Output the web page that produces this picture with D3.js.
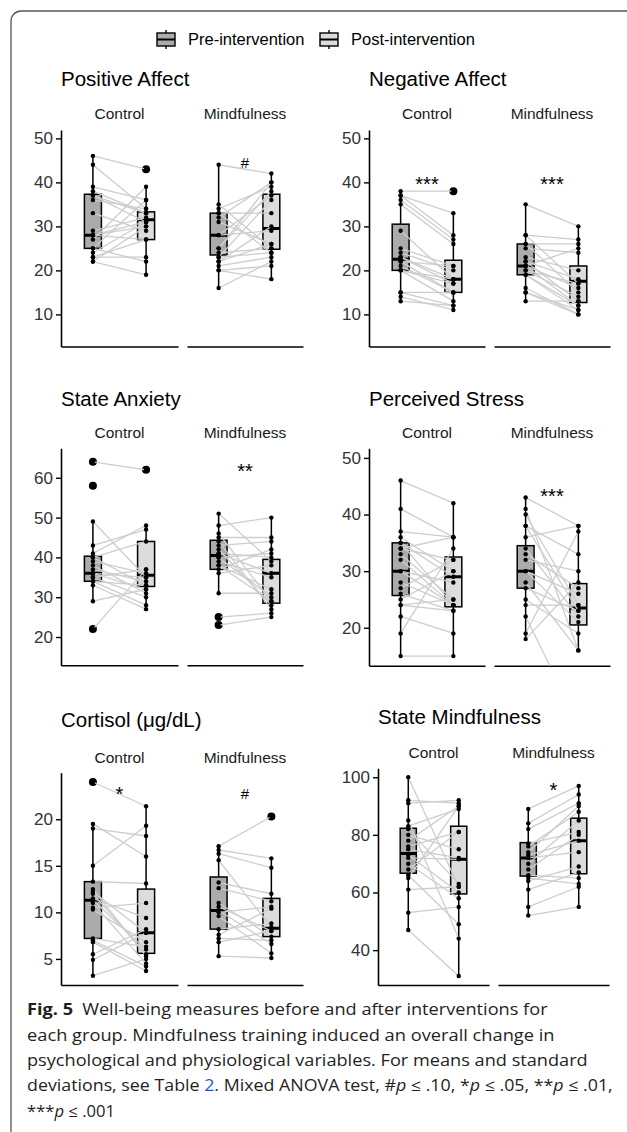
<!DOCTYPE html>
<html>
<head>
<meta charset="utf-8">
<script src="https://cdn.jsdelivr.net/npm/d3@7"></script>
<style>
  html, body { margin: 0; padding: 0; background: #fff; }
  svg { display: block; font-family: "Liberation Sans", Arial, sans-serif; }
  .title { font-size: 20.5px; fill: #000; }
  .strip { font-size: 15.5px; fill: #1a1a1a; text-anchor: middle; }
  .tick text { font-size: 17px; fill: #333; }
  .mark { fill: #000; text-anchor: middle; }
  .caption { font-family: "Open Sans", "Noto Sans", sans-serif; font-size: 16px; fill: #231f20; }
</style>
</head>
<body>
<svg id="fig" width="627" height="1132"></svg>
<script>
// ---------- data ----------
const measures = ['Positive Affect', 'Negative Affect', 'State Anxiety', 'Perceived Stress', 'Cortisol (\u03bcg/dL)', 'State Mindfulness'];
const groups = ['Control', 'Mindfulness'];
const phases = ['Pre-intervention', 'Post-intervention'];

// Positive Affect (same index = same participant)
const paControlPre  = [46, 44, 39, 38, 37, 37, 36, 33, 29, 28, 28, 28, 27, 25, 25, 24, 23, 23, 22, 22];
const paControlPost = [43, 34, 36, 33, 33, 31, 34, 29, 32, 31, 30, 27, 39, 36, 22, 31, 23, 27, 19, 30];
const paMindPre  = [44, 35, 34, 33, 33, 32, 31, 28, 28, 25, 25, 24, 23, 23, 22, 22, 21, 20, 20, 16];
const paMindPost = [42, 25, 39, 33, 24, 40, 26, 37, 29, 38, 40, 25, 36, 24, 30, 26, 23, 18, 21, 22];
// boxes: [whisker low, q1, median, q3, whisker high] for ctrl pre, ctrl post, mind pre, mind post
const paBoxes = [[22, 25, 28, 37.3, 46], [19, 27, 31.5, 33.3, 39], [16, 23.5, 28, 33, 44], [18, 24.8, 29.5, 37.3, 42]];
const paOutliers = [[], [43], [], []];
const paMarks = ['', '#'];
const paMarkY = [null, 44.5];
const paTicks = [10, 20, 30, 40, 50];
const paDomain = [2.7, 51.9];

// Negative Affect
const naControlPre  = [38, 37, 37, 36, 35, 29, 25, 24, 23, 23, 22, 22, 21, 20, 20, 20, 15, 15, 14, 13];
const naControlPost = [38, 33, 28, 27, 26, 18, 21, 20, 17, 18, 21, 15, 15, 13, 18, 17, 15, 12, 11, 12];
const naMindPre  = [35, 28, 28, 26, 26, 25, 23, 22, 22, 21, 21, 21, 20, 20, 19, 19, 16, 15, 15, 13];
const naMindPost = [30, 27, 17, 26, 15, 24, 20, 18, 13, 25, 16, 12, 14, 17, 11, 12, 10, 11, 10, 13];
const naBoxes = [[13, 20, 22.5, 30.5, 38], [11, 15, 18, 22.3, 33], [13, 19, 21, 26, 35], [10, 12.7, 17.5, 21, 30]];
const naOutliers = [[], [38], [], []];
const naMarks = ['***', '***'];
const naMarkY = [40.6, 40.6];
const naTicks = [10, 20, 30, 40, 50];
const naDomain = [2.7, 51.9];

// State Anxiety
const saControlPre  = [64, 58, 49, 43, 41, 40, 40, 39, 38, 37, 36, 36, 35, 35, 34, 34, 33, 29, 22];
const saControlPost = [62, null, 35, 47, 48, 44, 33, 36, 31, 34, 32, 35, 37, 30, 28, 33, 27, 32, 37];
const saMindPre  = [51, 48, 46, 45, 44, 43, 42, 41, 41, 40, 40, 39, 38, 38, 37, 36, 31, 25, 23];
const saMindPost = [39, 50, 29, 45, 27, 44, 28, 36, 40, 30, 41, 35, 32, 29, 42, 38, 31, 26, 25];
const saBoxes = [[29, 34, 36, 40.3, 49], [27, 32.7, 35.5, 44, 48], [31, 37, 40.5, 44.3, 51], [25, 28.5, 36, 39.5, 50]];
const saOutliers = [[64, 58, 22], [62], [25, 23], []];
const saMarks = ['', '**'];
const saMarkY = [null, 62.8];
const saTicks = [20, 30, 40, 50, 60];
const saDomain = [12.9, 67.4];

// Perceived Stress
const psControlPre  = [46, 41, 37, 36, 35, 35, 34, 34, 33, 32, 30, 30, 28, 27, 26, 25, 24, 24, 22, 19, 15];
const psControlPost = [42, 36, 36, 30, 24, 29, 32, 36, 25, 24, 28, 24, 24, 32, 23, 30, 23, 25, 19, 34, 15];
const psMindPre  = [43, 41, 40, 38, 38, 36, 34, 33, 32, 30, 30, 28, 27, 25, 24, 22, 19, 18];
const psMindPost = [38, 16, 24, 23, 33, 38, 22, 27, 30, 21, 26, 16, 23, 19, 24, 3, 37, 28];
const psBoxes = [[15, 25.7, 30, 35, 46], [15, 23.7, 29, 32.5, 42], [18, 27, 30, 34.5, 43], [16, 20.5, 23.5, 27.8, 38]];
const psOutliers = [[], [], [], [3]];
const psMarks = ['', '***'];
const psMarkY = [null, 44.1];
const psTicks = [20, 30, 40, 50];
const psDomain = [13.3, 51.7];

// Cortisol
const coControlPre  = [24.0, 19.5, 19.0, 15.0, 13.3, 12.5, 12.2, 12.0, 11.5, 11.3, 11.0, 10.5, 10.3, 7.2, 7.0, 6.8, 5.5, 4.9, 3.2];
const coControlPost = [21.4, 16.0, 18.2, 19.3, 13.1, 5.3, 7.8, 5.5, 9.4, 6.0, 4.5, 11.0, 6.8, 6.3, 4.2, 3.7, 8.2, 7.8, 5.0];
const coMindPre  = [17.1, 16.7, 16.3, 15.6, 13.2, 12.6, 11.0, 10.6, 10.2, 10.0, 9.6, 8.2, 7.6, 7.2, 6.8, 5.3];
const coMindPost = [20.3, 15.8, 14.8, 8.4, 12.0, 11.2, 7.4, 8.0, 6.6, 10.6, 5.6, 8.8, 10.4, 7.0, 8.0, 5.1];
const coBoxes = [[3.2, 7.2, 11.3, 13.3, 19.5], [3.7, 5.6, 7.8, 12.5, 21.4], [5.3, 8.2, 10.2, 13.8, 17.1], [5.1, 7.4, 8.3, 11.5, 15.8]];
const coOutliers = [[24.0], [], [], [20.3]];
const coMarks = ['*', '#'];
const coMarkY = [23.2, 22.7];
const coTicks = [5, 10, 15, 20];
const coDomain = [2.2, 25];

// State Mindfulness
const smControlPre  = [100, 92, 91, 85, 83, 82, 80, 78, 76, 75, 73, 72, 70, 68, 66, 65, 61, 53, 47];
const smControlPost = [62, 91, 92, 44, 89, 63, 75, 90, 81, 72, 60, 71.5, 58, 81, 49, 90, 62, 55, 31];
const smMindPre  = [89, 84, 82, 77, 76, 74, 73, 72, 70, 68, 66, 65, 64, 61, 55, 52];
const smMindPost = [97, 94, 91, 81, 88, 90, 78, 74, 85, 80, 65, 63, 69, 67, 62, 55];
const smBoxes = [[47, 66.7, 73.5, 82.3, 100], [31, 59.5, 71.5, 83, 92], [52, 65.7, 72, 77.3, 89], [55, 66.5, 78, 85.8, 97]];
const smOutliers = [[], [], [], []];
const smMarks = ['', '*'];
const smMarkY = [null, 97.0];
const smTicks = [40, 60, 80, 100];
const smDomain = [27.9, 103.1];

// ---------- panel table built from the arrays ----------
const panels = [
  { pre: [paControlPre, paMindPre], post: [paControlPost, paMindPost], boxes: paBoxes, outliers: paOutliers, marks: paMarks, markY: paMarkY, ticks: paTicks, domain: paDomain },
  { pre: [naControlPre, naMindPre], post: [naControlPost, naMindPost], boxes: naBoxes, outliers: naOutliers, marks: naMarks, markY: naMarkY, ticks: naTicks, domain: naDomain },
  { pre: [saControlPre, saMindPre], post: [saControlPost, saMindPost], boxes: saBoxes, outliers: saOutliers, marks: saMarks, markY: saMarkY, ticks: saTicks, domain: saDomain },
  { pre: [psControlPre, psMindPre], post: [psControlPost, psMindPost], boxes: psBoxes, outliers: psOutliers, marks: psMarks, markY: psMarkY, ticks: psTicks, domain: psDomain },
  { pre: [coControlPre, coMindPre], post: [coControlPost, coMindPost], boxes: coBoxes, outliers: coOutliers, marks: coMarks, markY: coMarkY, ticks: coTicks, domain: coDomain },
  { pre: [smControlPre, smMindPre], post: [smControlPost, smMindPost], boxes: smBoxes, outliers: smOutliers, marks: smMarks, markY: smMarkY, ticks: smTicks, domain: smDomain }
].map((p, i) => ({ ...p, title: measures[i] }));

// page layout of each panel (pixels)
const layout = [
  { facets: [[61, 178], [187, 303]], title: 86, strip: 119.3, top: 130, bottom: 346.5 },
  { facets: [[369, 485], [494, 610]], title: 86, strip: 119.3, top: 130, bottom: 346.5 },
  { facets: [[61, 178], [187, 303]], title: 406, strip: 438.3, top: 448.3, bottom: 665.3 },
  { facets: [[369, 485], [494, 610]], title: 406, strip: 438.3, top: 448.3, bottom: 665.7 },
  { facets: [[61, 178], [187, 303]], title: 727, strip: 763, top: 772.7, bottom: 985 },
  { facets: [[378, 489], [498, 609]], title: 724, strip: 758.3, top: 768.3, bottom: 985 }
];

const fills = ['#ababab', '#dcdcdc'];
const pairColor = '#cdcdcd';
const boxHalf = 0.16;

const svg = d3.select('#fig');

// frame
svg.append('path')
  .attr('d', 'M11,1132V21A10,10 0 0 1 21,11H627')
  .attr('fill', 'none')
  .attr('stroke', '#555')
  .attr('stroke-width', 1.3);

// legend
const legendX = [157, 320];
phases.forEach((ph, k) => {
  const lg = svg.append('g').attr('transform', `translate(${legendX[k]},0)`);
  lg.append('line').attr('x1', 9).attr('x2', 9).attr('y1', 30).attr('y2', 49)
    .attr('stroke', '#000').attr('stroke-width', 1.4);
  lg.append('rect').attr('x', 0).attr('y', 33).attr('width', 18).attr('height', 13)
    .attr('fill', fills[k]).attr('stroke', '#000').attr('stroke-width', 1.4);
  lg.append('line').attr('x1', 0).attr('x2', 18).attr('y1', 39.5).attr('y2', 39.5)
    .attr('stroke', '#000').attr('stroke-width', 2);
  lg.append('text').attr('x', 31).attr('y', 45).attr('font-size', 16.5).attr('fill', '#000').text(ph);
});

panels.forEach((p, i) => {
  const L = layout[i];
  const g = svg.append('g');
  const y = d3.scaleLinear().domain(p.domain).range([L.bottom, L.top]);

  g.append('text').attr('class', 'title')
    .attr('x', L.facets[0][0]).attr('y', L.title).text(p.title);

  const ay = g.append('g')
    .attr('transform', `translate(${L.facets[0][0]},0)`)
    .call(d3.axisLeft(y).tickValues(p.ticks).tickSize(5).tickSizeOuter(0).tickPadding(3));
  ay.select('.domain').attr('stroke', '#000').attr('stroke-width', 1.6);
  ay.selectAll('.tick line').attr('stroke', '#000').attr('stroke-width', 1.4);
  ay.attr('font-family', null).attr('font-size', null);

  groups.forEach((grp, j) => {
    const x = d3.scaleLinear().domain([0.4, 2.6]).range(L.facets[j]);
    const fg = g.append('g');

    fg.append('g')
      .attr('transform', `translate(0,${L.bottom})`)
      .call(d3.axisBottom(x).tickValues([]).tickSizeOuter(0))
      .select('.domain').attr('stroke', '#000').attr('stroke-width', 1.6);

    fg.append('text').attr('class', 'strip')
      .attr('x', x(1.5)).attr('y', L.strip).text(grp);

    const clipId = `clip-${i}-${j}`;
    fg.append('clipPath').attr('id', clipId)
      .append('rect')
      .attr('x', x(0.4)).attr('width', x(2.6) - x(0.4))
      .attr('y', y(p.domain[1])).attr('height', y(p.domain[0]) - y(p.domain[1]));
    const cg = fg.append('g').attr('clip-path', `url(#${clipId})`);

    // boxplots
    [0, 1].forEach((k) => {
      const [lo, q1, med, q3, hi] = p.boxes[j * 2 + k];
      const cx = k + 1;
      cg.append('line').attr('x1', x(cx)).attr('x2', x(cx)).attr('y1', y(hi)).attr('y2', y(q3))
        .attr('stroke', '#000').attr('stroke-width', 1.5);
      cg.append('line').attr('x1', x(cx)).attr('x2', x(cx)).attr('y1', y(q1)).attr('y2', y(lo))
        .attr('stroke', '#000').attr('stroke-width', 1.5);
      cg.append('rect')
        .attr('x', x(cx - boxHalf)).attr('width', x(cx + boxHalf) - x(cx - boxHalf))
        .attr('y', y(q3)).attr('height', y(q1) - y(q3))
        .attr('fill', fills[k]).attr('stroke', '#000').attr('stroke-width', 1.5);
      cg.append('line').attr('x1', x(cx - boxHalf)).attr('x2', x(cx + boxHalf))
        .attr('y1', y(med)).attr('y2', y(med))
        .attr('stroke', '#000').attr('stroke-width', 3);
      cg.selectAll(null).data(p.outliers[j * 2 + k]).join('circle')
        .attr('cx', x(cx)).attr('cy', (d) => y(d)).attr('r', 4).attr('fill', '#000');
    });

    // paired lines
    const pre = p.pre[j];
    const post = p.post[j];
    const pairs = pre.map((v, s) => ({ pre: v, post: post[s] })).filter((d) => d.post != null);
    cg.selectAll(null).data(pairs).join('line')
      .attr('x1', x(1)).attr('x2', x(2))
      .attr('y1', (d) => y(d.pre)).attr('y2', (d) => y(d.post))
      .attr('stroke', pairColor).attr('stroke-width', 1.3);

    // points
    cg.selectAll(null).data(pre).join('circle')
      .attr('cx', x(1)).attr('cy', (d) => y(d)).attr('r', 2.2).attr('fill', '#000');
    cg.selectAll(null).data(post.filter((d) => d != null)).join('circle')
      .attr('cx', x(2)).attr('cy', (d) => y(d)).attr('r', 2.2).attr('fill', '#000');

    // significance mark, markY is the visual centre of the glyphs
    if (p.marks[j]) {
      const star = p.marks[j].includes('*');
      fg.append('text').attr('class', 'mark')
        .attr('font-size', star ? 20 : 15)
        .attr('x', x(1.5)).attr('y', y(p.markY[j]))
        .attr('dy', star ? 11.6 : 5.2)
        .text(p.marks[j]);
    }
  });
});

// caption
const caption = [
  [['Fig. 5', 'b'], ['\u2002Well-being measures before and after interventions for', '']],
  [['each group. Mindfulness training induced an overall change in', '']],
  [['psychological and physiological variables. For means and standard', '']],
  [['deviations, see Table ', ''], ['2', 'link'], ['. Mixed ANOVA test, #', ''], ['p', 'i'], [' \u2264 .10, *', ''],
   ['p', 'i'], [' \u2264 .05, **', ''], ['p', 'i'], [' \u2264 .01,', '']],
  [['***', ''], ['p', 'i'], [' \u2264 .001', '']]
];
const capBase = [1015, 1041, 1066, 1091, 1117];
const capWidth = [521, 528, 561, 586, 88];

caption.forEach((line, li) => {
  const cg = svg.append('g');
  const t = cg.append('text').attr('class', 'caption').attr('x', 0).attr('y', 0);
  line.forEach(([s, st]) => {
    const ts = t.append('tspan').text(s);
    if (st === 'b') ts.attr('font-weight', 'bold');
    if (st === 'i') ts.attr('font-style', 'italic');
    if (st === 'link') ts.attr('fill', '#2a55c8');
  });
  const w = t.node().getComputedTextLength();
  const sx = w > 0 ? capWidth[li] / w : 1;
  cg.attr('transform', `translate(27,${capBase[li]}) scale(${sx},1)`);
});
</script>
</body>
</html>
